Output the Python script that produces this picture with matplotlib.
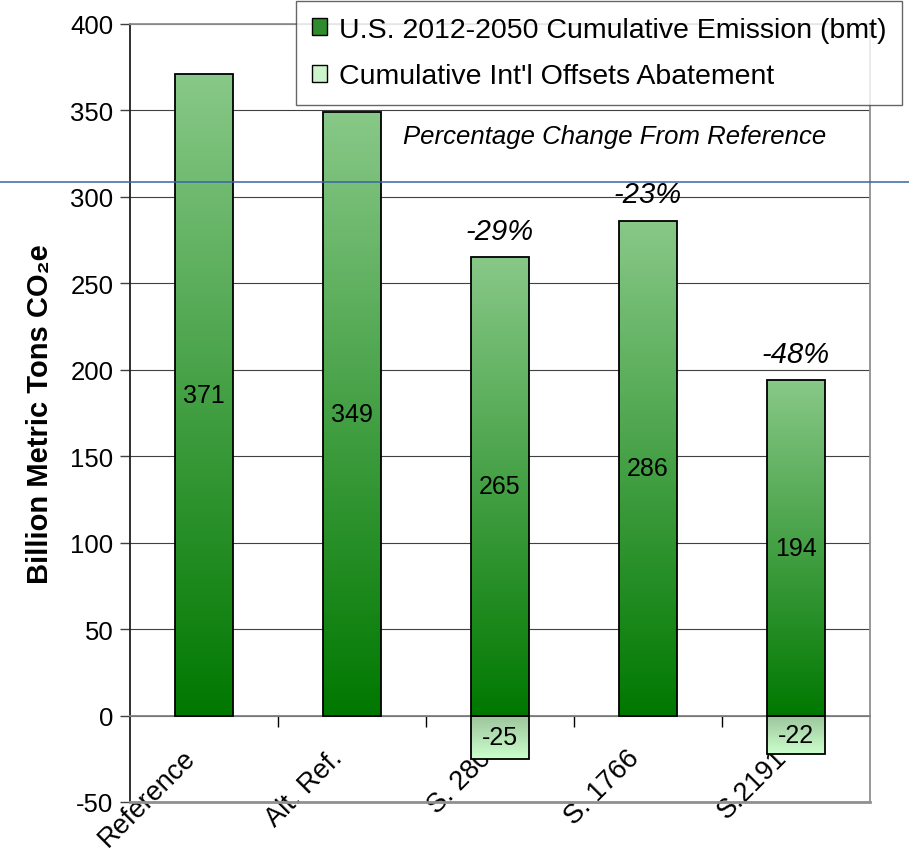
import numpy as np
import matplotlib
matplotlib.use("Agg")
import matplotlib.pyplot as plt
from matplotlib.lines import Line2D
from matplotlib.patches import Patch
from matplotlib.colors import LinearSegmentedColormap
from matplotlib.transforms import ScaledTranslation

plt.rcParams['font.family'] = ['Liberation Sans', 'DejaVu Sans']
plt.rcParams['axes.unicode_minus'] = False

categories = ['Reference', 'Alt. Ref.', 'S. 280', 'S. 1766', 'S.2191']
emissions = [371, 349, 265, 286, 194]
offsets = [0, 0, -25, 0, -22]
pct_labels = ['', '', '-29%', '-23%', '-48%']
legend_labels = ['U.S. 2012-2050 Cumulative Emission (bmt)', "Cumulative Int'l Offsets Abatement"]
ylabel = 'Billion Metric Tons CO\u2082e'
note = 'Percentage Change From Reference'

W, H = 909, 853
fig = plt.figure(figsize=(W / 100, H / 100), dpi=100)
ax = fig.add_axes([130 / W, 1 - 803 / H, 740 / W, (803 - 24.7) / H])

x = np.arange(len(categories))
bw = 0.39
pos_cmap = LinearSegmentedColormap.from_list('pos', ['#007800', '#88c888'])
neg_cmap = LinearSegmentedColormap.from_list('neg', ['#ccffcc', '#9cc49c'])

ax.set_xlim(-0.5, len(categories) - 0.5)
ax.set_ylim(-50, 400)

grad = np.linspace(0, 1, 256).reshape(-1, 1)


def grad_bars(vals, cmap):
    bars = ax.bar(x, vals, width=bw, facecolor='none', edgecolor='black', linewidth=1.3, zorder=3)
    for b, v in zip(bars, vals):
        if v == 0:
            b.set_visible(False)
            continue
        x0, y0 = b.get_x(), b.get_y()
        w, h = b.get_width(), b.get_height()
        ylo, yhi = min(y0, y0 + h), max(y0, y0 + h)
        im = ax.imshow(grad, cmap=cmap, origin='lower', aspect='auto',
                       extent=[x0, x0 + w, ylo, yhi], zorder=2.5)
        im.set_clip_path(b)
    return bars


bars_pos = grad_bars(emissions, pos_cmap)
bars_neg = grad_bars(offsets, neg_cmap)
ax.set_xlim(-0.5, len(categories) - 0.5)
ax.set_ylim(-50, 400)

# value labels
for b, v in zip(bars_pos, emissions):
    ax.text(b.get_x() + b.get_width() / 2, v / 2, f'{v}', ha='center', va='center',
            fontsize=18, zorder=5)
for b, v in zip(bars_neg, offsets):
    if v != 0:
        ax.text(b.get_x() + b.get_width() / 2, v / 2, f'{v}', ha='center', va='center',
                fontsize=18, zorder=5)

# percentage labels
for xi, v, lab in zip(x, emissions, pct_labels):
    if lab:
        ax.annotate(lab, (xi, v), xytext=(0, 19), textcoords='offset points',
                    ha='center', va='center', fontsize=21, style='italic', zorder=5)

ax.text(0.655, 0.856, note, transform=ax.transAxes, ha='center', va='center',
        fontsize=18.5, style='italic')

# grid
ax.set_yticks(np.arange(-50, 401, 50))
ax.yaxis.grid(True, color='#404040', linewidth=0.8, zorder=1)
ax.set_axisbelow(True)
ax.tick_params(axis='y', direction='out', length=7, width=1, color='#404040',
               labelsize=18.5, pad=5)

# spines
for s in ['top', 'right']:
    ax.spines[s].set_color('#909090')
    ax.spines[s].set_linewidth(1.3)
ax.spines['left'].set_color('#202020')
ax.spines['left'].set_linewidth(1.3)
ax.spines['bottom'].set_position(('data', 0))
ax.spines['bottom'].set_color('#808080')
ax.spines['bottom'].set_linewidth(1.3)
ax.axhline(-50, color='#909090', linewidth=2, zorder=4, clip_on=False)

ax.set_xticks(x)
ax.set_xticks(np.arange(0.5, len(categories) - 0.5, 1), minor=True)
ax.set_xticklabels(categories, rotation=45, ha='right', va='center',
                   rotation_mode='anchor', fontsize=19.5)
ax.tick_params(axis='x', which='major', length=0, pad=30)
ax.tick_params(axis='x', which='minor', direction='out', length=8, width=1, color='black')
shift = ScaledTranslation(-13 / 100, 4 / 100, fig.dpi_scale_trans)
for lab in ax.get_xticklabels():
    lab.set_transform(lab.get_transform() + shift)

ax.set_ylabel(ylabel, fontsize=21, fontweight='bold', labelpad=12)

# legend
handles = [Patch(facecolor='#2e8b2e', edgecolor='black', linewidth=1),
           Patch(facecolor='#ccf5cc', edgecolor='black', linewidth=1)]
leg = fig.legend(handles, legend_labels, loc='upper left',
                 bbox_to_anchor=(296 / W, 1 - 2 / H), fontsize=20.5, frameon=True,
                 fancybox=False, edgecolor='#404040', handlelength=0.55, handleheight=0.55,
                 handletextpad=0.4, labelspacing=0.72, borderpad=0.55, borderaxespad=0)
leg.get_frame().set_linewidth(1.0)

# horizontal blue artifact line
fig.add_artist(Line2D([0, 1], [1 - 183 / H, 1 - 183 / H], transform=fig.transFigure,
                      color='#3a64a8', linewidth=1.1, zorder=10))

fig.savefig('out.png', dpi=100)
